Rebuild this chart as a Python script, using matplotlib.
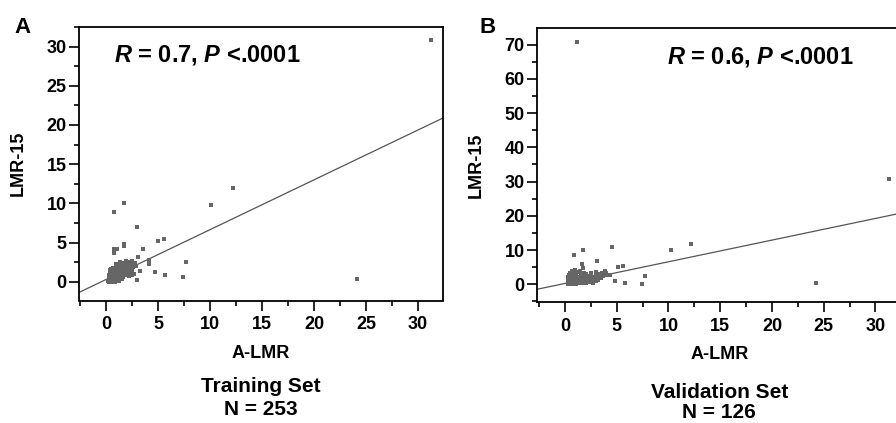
import numpy as np
import matplotlib
matplotlib.use('Agg')
import matplotlib.pyplot as plt
from matplotlib.ticker import MultipleLocator

plt.rcParams['font.family'] = ['Liberation Sans', 'DejaVu Sans']
plt.rcParams['font.weight'] = 'bold'
plt.rcParams['mathtext.fontset'] = 'custom'
plt.rcParams['mathtext.it'] = 'Liberation Sans:italic:bold'
plt.rcParams['mathtext.rm'] = 'Liberation Sans:bold'

# training set (A-LMR, LMR-15)
train_x = [0.2, 0.3, 0.3, 0.4, 0.4, 0.4, 0.5, 0.5, 0.5, 0.5, 0.6, 0.6, 0.6, 0.6, 0.7, 0.7, 0.7, 0.7,
           0.8, 0.8, 0.8, 0.8, 0.9, 0.9, 0.9, 0.9, 1.0, 1.0, 1.0, 1.0, 1.1, 1.1, 1.1, 1.2, 1.2, 1.2,
           1.2, 1.3, 1.3, 1.3, 1.4, 1.4, 1.4, 1.5, 1.5, 1.5, 1.6, 1.6, 1.6, 1.7, 1.7, 1.7, 1.8, 1.8,
           1.8, 1.9, 1.9, 1.9, 2.0, 2.0, 2.0, 2.1, 2.1, 2.2, 2.2, 2.3, 2.3, 2.4, 2.4, 2.5, 2.5, 2.6,
           2.6, 2.7, 2.7, 2.8, 0.3, 0.6, 0.9, 1.2, 1.5, 0.4, 0.7, 1.0, 1.3, 2.2, 2.5, 1.1, 0.5, 1.9,
           31.2, 24.1, 12.2, 10.1, 1.7, 0.8, 2.95, 5.0, 5.6, 1.7, 1.7, 0.8, 1.1, 0.8, 3.6, 4.1, 4.1,
           7.7, 3.1, 4.7, 5.7, 7.4, 2.95, 3.3, 2.9]
train_y = [0.1, 0.4, 0.9, 0.2, 0.6, 1.1, 0.0, 0.3, 0.7, 1.0, 0.2, 0.5, 0.9, 1.3, 0.1, 0.4, 0.8, 1.1,
           0.3, 0.6, 1.0, 1.5, 0.2, 0.7, 1.2, 1.7, 0.4, 0.8, 1.1, 1.4, 0.6, 0.9, 1.6, 0.3, 0.8, 1.2,
           2.0, 0.7, 1.0, 1.5, 0.5, 1.1, 1.8, 0.9, 1.3, 2.2, 0.6, 1.2, 1.7, 1.0, 1.5, 2.4, 0.8, 1.3,
           1.9, 1.1, 1.6, 2.1, 1.4, 1.8, 0.9, 1.2, 2.3, 1.6, 2.0, 1.3, 2.5, 1.8, 2.2, 1.5, 2.6, 1.9,
           2.3, 1.0, 2.1, 2.4, 0.0, 0.0, 0.0, 0.1, 0.4, 1.5, 1.8, 2.2, 2.5, 0.7, 0.9, 0.2, 1.6, 2.6,
           30.8, 0.35, 12.0, 9.85, 10.1, 8.9, 6.95, 5.2, 5.4, 4.8, 4.6, 4.2, 4.2, 3.6, 4.2, 2.8, 2.3,
           2.5, 3.1, 1.3, 0.9, 0.55, 0.2, 1.4, 2.0]

# validation set
valid_x = [0.3, 0.3, 0.3, 0.4, 0.4, 0.4, 0.5, 0.5, 0.5, 0.6, 0.6, 0.6, 0.7, 0.7, 0.7, 0.8, 0.8, 0.8,
           0.9, 0.9, 0.9, 1.0, 1.0, 1.0, 1.1, 1.1, 1.1, 1.2, 1.2, 1.2, 1.3, 1.3, 1.4, 1.4, 1.4, 1.5,
           1.5, 1.5, 1.6, 1.6, 1.7, 1.7, 1.8, 1.8, 1.8, 1.9, 1.9, 2.0, 2.0, 2.1, 2.1, 2.2, 2.2, 2.3,
           2.3, 2.4, 2.4, 2.5, 2.5, 2.6, 2.6, 2.7, 2.7, 2.8, 2.8, 2.9, 3.0, 3.0, 3.1, 3.2, 3.2, 3.3,
           3.4, 3.5, 3.5, 3.6, 3.7, 3.8, 3.9, 4.0, 4.2, 2.0, 2.5, 3.0,
           1.13, 31.3, 24.25, 12.2, 10.2, 4.5, 1.7, 0.9, 3.06, 1.6, 1.75, 5.1, 5.6, 7.7, 4.8, 5.8,
           7.4, 3.9, 4.3]
valid_y = [0.2, 1.0, 2.0, 0.5, 1.5, 2.8, 0.0, 0.8, 3.2, 0.3, 1.2, 2.2, 0.6, 1.8, 3.8, 0.1, 1.0, 2.5,
           0.4, 1.4, 3.0, 0.7, 2.0, 4.2, 0.2, 1.1, 2.7, 0.5, 1.6, 3.5, 0.9, 2.1, 0.3, 1.3, 4.0, 0.7,
           1.8, 2.9, 1.0, 2.3, 0.4, 1.5, 0.8, 2.0, 3.3, 1.2, 2.6, 0.5, 1.7, 1.0, 2.2, 0.6, 1.5, 1.9,
           0.9, 1.3, 2.4, 0.7, 1.8, 1.1, 2.1, 1.5, 0.4, 2.0, 1.2, 1.7, 2.5, 0.9, 1.9, 2.8, 1.3, 2.2,
           3.0, 1.8, 2.6, 3.4, 2.3, 3.0, 2.6, 3.3, 2.8, 3.0, 3.2, 3.6,
           70.7, 30.7, 0.3, 11.7, 10.0, 10.8, 10.0, 8.6, 6.8, 5.85, 4.7, 5.0, 5.3, 2.4, 1.0, 0.5,
           0.1, 3.8, 2.6]

# fitted lines (slope, intercept)
train_fit = [0.636, 0.28]
valid_fit = [0.633, 0.24]

W, H = 896, 423
fig = plt.figure(figsize=(W / 100, H / 100), dpi=100)

def px(x, y):
    return x / W, 1 - y / H

panels = [
    dict(x=train_x, y=train_y, fit=train_fit, box=(79, 27, 364, 273.5), xlim=(-2.6, 32.4),
         ylim=(-2.4, 32.5), ymaj=5, ymin=2.5, label='A', lab_xy=(14, 33), r='0.7',
         r_xy=(114, 55), ylab_x=18.5, cap1='Training Set', cap1_y=386, cap2='N = 253', cap2_y=409),
    dict(x=valid_x, y=valid_y, fit=valid_fit, box=(537.3, 28.3, 364, 273.4), xlim=(-2.68, 32.5),
         ylim=(-5.1, 74.8), ymaj=10, ymin=5, label='B', lab_xy=(479, 33), r='0.6',
         r_xy=(667, 57), ylab_x=476.5, cap1='Validation Set', cap1_y=392, cap2='N = 126', cap2_y=412),
]

for p in panels:
    l, t, w, h = p['box']
    ax = fig.add_axes([l / W, 1 - (t + h) / H, w / W, h / H])
    ax.scatter(p['x'], p['y'], s=6, marker='s', color='#666666', linewidths=0, zorder=3)
    xs = np.array(p['xlim'])
    ax.plot(xs, p['fit'][0] * xs + p['fit'][1], color='#555555', lw=0.9, zorder=2)
    ax.set_xlim(*p['xlim'])
    ax.set_ylim(*p['ylim'])
    ax.xaxis.set_major_locator(MultipleLocator(5))
    ax.xaxis.set_minor_locator(MultipleLocator(2.5))
    ax.yaxis.set_major_locator(MultipleLocator(p['ymaj']))
    ax.yaxis.set_minor_locator(MultipleLocator(p['ymin']))
    ax.tick_params(which='major', length=7, width=1.2, labelsize=13)
    ax.tick_params(which='minor', length=3.5, width=1.2)
    ax.tick_params(axis='x', which='major', pad=4.5)
    ax.tick_params(axis='y', which='major', pad=2)
    for s in ax.spines.values():
        s.set_linewidth(1.3)
    ax.text(0.5, (h + 53) / -h + 1, 'A-LMR', transform=ax.transAxes, ha='center', va='center',
            fontsize=13, fontweight='bold')
    cx = (l + w / 2) / W
    fig.text(cx, 1 - p['cap1_y'] / H, p['cap1'], ha='center', va='center', fontsize=15)
    fig.text(cx, 1 - p['cap2_y'] / H, p['cap2'], ha='center', va='center', fontsize=15)
    fig.text(*px(p['ylab_x'], t + h / 2), 'LMR-15', rotation=90, ha='center', va='center',
             fontsize=13)
    fig.text(*px(*p['lab_xy']), p['label'], ha='left', va='baseline', fontsize=16)
    fig.text(*px(*p['r_xy']), r'$\mathit{R}$ = ' + p['r'] + r', $\mathit{P}$ <.0001',
             ha='left', va='center', fontsize=17)

fig.savefig('out.png', dpi=100)
